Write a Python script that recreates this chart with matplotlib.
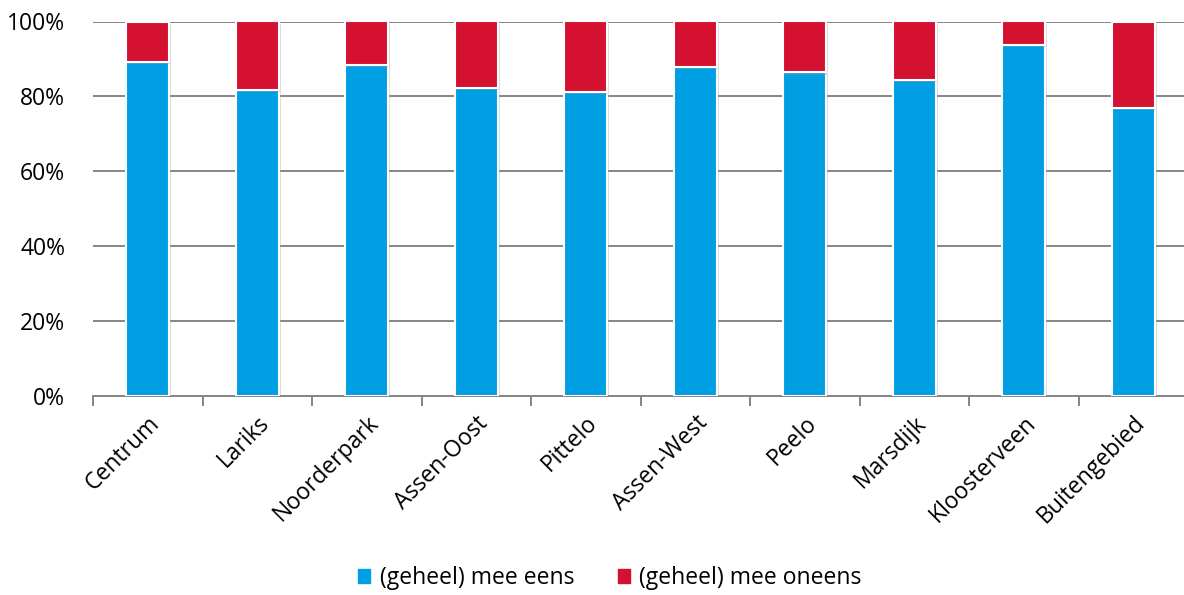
import matplotlib
matplotlib.use("Agg")
import matplotlib.pyplot as plt
import matplotlib.patheffects as pe
import numpy as np

categories = ["Centrum", "Lariks", "Noorderpark", "Assen-Oost", "Pittelo",
              "Assen-West", "Peelo", "Marsdijk", "Kloosterveen", "Buitengebied"]
eens = [89.1, 81.8, 88.4, 82.3, 81.3, 87.8, 86.4, 84.3, 93.8, 76.8]
oneens = [10.9, 18.2, 11.6, 17.7, 18.7, 12.2, 13.6, 15.7, 6.2, 23.2]
series_names = ["(geheel) mee eens", "(geheel) mee oneens"]
colors = ["#009FE3", "#D41130"]

plt.rcParams['font.family'] = ['Open Sans', 'DejaVu Sans']

fig = plt.figure(figsize=(11.84, 5.95), dpi=100)
ax = fig.add_axes([93/1184, 1-396/595, 1095/1184, (396-21.5)/595])

x = np.arange(len(categories))
shadow = [pe.SimplePatchShadow(offset=(1.5, -1.5), shadow_rgbFace='#999999', alpha=0.35), pe.Normal()]
ax.bar(x, eens, width=0.39, color=colors[0], edgecolor='white', linewidth=1.5,
       label=series_names[0], zorder=3, path_effects=shadow)
ax.bar(x, oneens, width=0.39, bottom=eens, color=colors[1], edgecolor='white', linewidth=1.5,
       label=series_names[1], zorder=3, path_effects=shadow)

ax.set_xlim(-0.5, len(categories) - 0.5)
ax.set_ylim(0, 100)
ax.set_yticks(np.arange(0, 101, 20))
ax.set_yticklabels([f"{v}%" for v in range(0, 101, 20)], fontsize=16.5)
ax.yaxis.grid(True, color='#858585', linewidth=1.4, zorder=0)
ax.tick_params(axis='y', length=0, pad=20)

ax.set_xticks(x)
ax.set_xticklabels(categories, rotation=45, ha='right', va='top', rotation_mode='anchor', fontsize=16.5)
ax.set_xticks(np.arange(-0.5, len(categories), 1), minor=True)
ax.tick_params(axis='x', which='major', length=0, pad=11)
ax.tick_params(axis='x', which='minor', length=7, color='#858585', width=1.4)

for s in ['top', 'right', 'left']:
    ax.spines[s].set_visible(False)
ax.spines['bottom'].set_color('#858585')
ax.spines['bottom'].set_linewidth(1.4)

handles = [plt.Rectangle((0, 0), 1, 1, color=c) for c in colors]
fig.legend(handles, series_names, loc='center', bbox_to_anchor=(0.515, 1-578/595), ncol=2,
           frameon=False, fontsize=16.5, handlelength=0.55, handleheight=0.55,
           handletextpad=0.4, columnspacing=1.9)

fig.savefig("out.png", dpi=100)
